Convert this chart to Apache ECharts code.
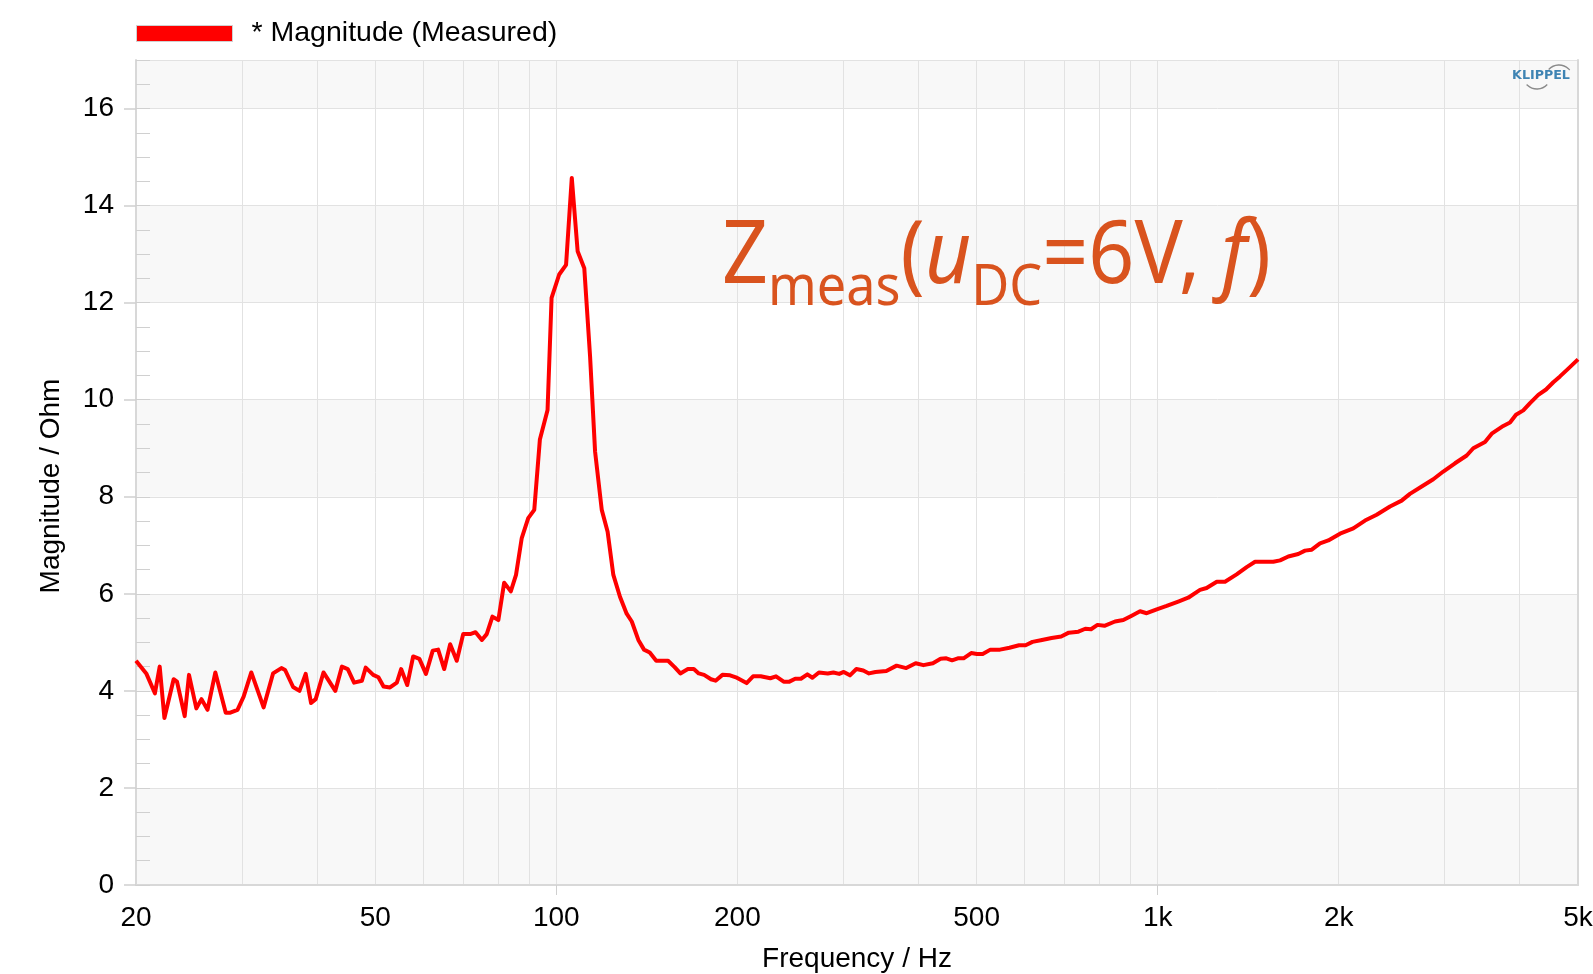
<!DOCTYPE html>
<html>
<head>
<meta charset="utf-8">
<script src="https://cdn.jsdelivr.net/npm/echarts@6.0.0/dist/echarts.min.js"></script>
<style>
  html, body { margin: 0; padding: 0; background: #fff; }
  #chart { width: 1593px; height: 974px; }
</style>
</head>
<body>
<div id="chart"></div>
<script>
// ---- data ----
const freqHz = [20, 20.8, 21.5, 21.9, 22.3, 23.1, 23.4, 24.1, 24.5, 25.2, 25.7, 26.3, 27.1, 27.7, 28.2,
  28.7, 29.5, 30.2, 31.1, 32.6, 33.8, 34.9, 35.4, 36.5, 37.4, 38.3, 39.1, 39.8, 41.0, 42.9,
  44.0, 45.0, 46.1, 47.5, 48.2, 49.6, 50.6, 51.6, 52.9, 54.3, 55.2, 56.5, 57.8, 59.2, 60.7,
  62.3, 63.6, 65.1, 66.6, 68.3, 70.0, 71.9, 73.4, 75.2, 76.6, 78.3, 80.1, 81.9, 84.0, 85.7,
  87.6, 89.8, 91.9, 93.9, 96.7, 98.2, 101.1, 103.8, 106.1, 108.5, 111.3, 113.8, 116.0, 119.0, 121.7,
  124.4, 127.6, 130.9, 133.5, 136.9, 139.9, 143.0, 146.6, 153.4, 157.3, 160.8, 165.5, 169.3, 172.5, 176.1,
  180.8, 184.0, 188.9, 194.5, 198.9, 207.2, 212.4, 218.7, 226.9, 231.9, 238.8, 244.1, 249.6, 255.1, 261.5,
  266.6, 273.3, 282.7, 288.9, 295.4, 300.6, 307.8, 315.5, 323.9, 331.1, 339.4, 353.8, 368.0, 381.8, 395.9,
  407.8, 422.9, 435.5, 445.2, 455.1, 465.2, 475.6, 489.7, 500.6, 511.7, 527.0, 546.8, 567.0, 588.1, 603.0,
  619.2, 642.1, 666.2, 691.1, 711.6, 738.2, 758.0, 774.7, 794.2, 815.5, 849.2, 876.7, 905.4, 934.7, 958.9,
  996.4, 1035, 1082, 1124, 1176, 1206, 1254, 1294, 1353, 1406, 1452, 1557, 1598, 1649, 1713,
  1758, 1804, 1862, 1922, 2010, 2115, 2212, 2313, 2434, 2545, 2627, 2748, 2873, 2985, 3122,
  3265, 3348, 3502, 3593, 3756, 3854, 3943, 4055, 4161, 4295, 4424, 4549, 4667, 4818, 5000];

const magnitudeOhm = [4.62, 4.36, 3.95, 4.50, 3.44, 4.24, 4.19, 3.48, 4.33, 3.64, 3.83, 3.61, 4.38, 3.92, 3.55,
  3.55, 3.61, 3.88, 4.38, 3.66, 4.36, 4.47, 4.43, 4.08, 4.00, 4.35, 3.75, 3.83, 4.38, 4.00,
  4.50, 4.45, 4.17, 4.21, 4.48, 4.33, 4.28, 4.09, 4.07, 4.17, 4.45, 4.12, 4.71, 4.66, 4.35,
  4.83, 4.85, 4.45, 4.96, 4.62, 5.17, 5.17, 5.21, 5.05, 5.17, 5.53, 5.46, 6.23, 6.05, 6.39,
  7.15, 7.56, 7.73, 9.18, 9.79, 12.10, 12.58, 12.78, 14.57, 13.06, 12.71, 10.89, 8.93, 7.73, 7.28,
  6.39, 5.94, 5.59, 5.43, 5.05, 4.85, 4.79, 4.62, 4.62, 4.49, 4.36, 4.45, 4.45, 4.36, 4.33,
  4.24, 4.21, 4.33, 4.32, 4.28, 4.16, 4.30, 4.30, 4.26, 4.30, 4.19, 4.19, 4.25, 4.25, 4.34,
  4.27, 4.38, 4.36, 4.38, 4.35, 4.39, 4.32, 4.45, 4.42, 4.36, 4.39, 4.41, 4.52, 4.47, 4.57,
  4.53, 4.57, 4.66, 4.67, 4.63, 4.67, 4.67, 4.78, 4.76, 4.76, 4.85, 4.85, 4.89, 4.94, 4.94,
  5.01, 5.05, 5.09, 5.12, 5.20, 5.22, 5.28, 5.27, 5.36, 5.34, 5.43, 5.46, 5.55, 5.64, 5.60,
  5.68, 5.75, 5.84, 5.92, 6.08, 6.12, 6.25, 6.25, 6.40, 6.55, 6.66, 6.66, 6.69, 6.77, 6.82,
  6.89, 6.91, 7.04, 7.10, 7.24, 7.35, 7.51, 7.63, 7.80, 7.92, 8.06, 8.21, 8.36, 8.52, 8.69,
  8.85, 9.00, 9.13, 9.30, 9.46, 9.53, 9.69, 9.78, 9.93, 10.10, 10.21, 10.36, 10.48, 10.64, 10.83];

const seriesName = '* Magnitude (Measured)';
const xLabelFreqs = [20, 50, 100, 200, 500, 1000, 2000, 5000];
const xGridFreqs = [20, 30, 40, 50, 60, 70, 80, 90, 100, 200, 300, 400, 500, 600, 700, 800, 900,
  1000, 2000, 3000, 4000, 5000];
const xDecadeTicks = [100, 1000];
const yMajorTicks = [0, 2, 4, 6, 8, 10, 12, 14, 16];

if (freqHz.length !== magnitudeOhm.length) console.warn('length mismatch');

// ---- chart ----
const FONT = '"Liberation Sans", Arial, sans-serif';
const GRID_COLOR = '#e2e2e2';
const BORDER_COLOR = '#d8d8d8';
const ANNO_COLOR = '#d9531e';
const ANNO_FONT = '"Noto Sans", sans-serif';

const chart = echarts.init(document.getElementById('chart'), null, { renderer: 'canvas' });

function fmtFreq(v) {
  const r = Math.round(v);
  return r >= 1000 ? (r / 1000) + 'k' : String(r);
}

const option = {
  animation: false,
  backgroundColor: '#ffffff',
  textStyle: { fontFamily: FONT },
  legend: {
    left: 136, top: 19, padding: 0,
    icon: 'rect', itemWidth: 96, itemHeight: 16,
    textStyle: { fontSize: 28.5, color: '#000', fontFamily: FONT, padding: [0, 0, 0, 14] },
    data: [{ name: seriesName, itemStyle: { color: '#ff0000', borderColor: '#d0d0d0', borderWidth: 1 } }]
  },
  grid: { left: 136, right: 15, top: 60, bottom: 89, containLabel: false, outerBoundsMode: 'none' },
  xAxis: [
    {
      type: 'log', logBase: 10, min: 20, max: 5000, position: 'bottom',
      name: 'Frequency / Hz', nameLocation: 'middle', nameGap: 60,
      nameTextStyle: { fontSize: 28, color: '#000', fontFamily: FONT },
      axisLine: { show: true, lineStyle: { color: BORDER_COLOR, width: 2 } },
      axisTick: { show: false, customValues: xGridFreqs },
      axisLabel: { customValues: xLabelFreqs, formatter: fmtFreq, fontSize: 28, color: '#000',
                   fontFamily: FONT, margin: 19, hideOverlap: false },
      splitLine: { show: true, lineStyle: { color: GRID_COLOR, width: 1 } },
      minorTick: { show: false }, minorSplitLine: { show: false }
    },
    {
      type: 'log', logBase: 10, min: 20, max: 5000, position: 'bottom',
      axisLine: { show: false },
      axisTick: { show: true, customValues: xDecadeTicks, length: 10, lineStyle: { color: '#cfcfcf', width: 1 } },
      axisLabel: { show: false },
      splitLine: { show: false }
    },
    {
      type: 'log', logBase: 10, min: 20, max: 5000, position: 'top',
      axisLine: { show: true, lineStyle: { color: BORDER_COLOR, width: 2 } },
      axisTick: { show: false }, axisLabel: { show: false }, splitLine: { show: false }
    }
  ],
  yAxis: [
    {
      type: 'value', min: 0, max: 17, interval: 2, position: 'left',
      name: 'Magnitude / Ohm', nameLocation: 'middle', nameGap: 71,
      nameTextStyle: { fontSize: 28, color: '#000', fontFamily: FONT, padding: [0, 27, 0, 0] },
      axisLine: { show: true, lineStyle: { color: BORDER_COLOR, width: 2 } },
      axisTick: { show: false },
      axisLabel: { fontSize: 28, color: '#000', fontFamily: FONT, margin: 22, showMaxLabel: false },
      splitLine: { show: true, lineStyle: { color: GRID_COLOR, width: 1 } },
      splitArea: { show: true, areaStyle: { color: ['#f8f8f8', '#ffffff'] } }
    },
    {
      type: 'value', min: 0, max: 17, position: 'left',
      axisLine: { show: false }, axisLabel: { show: false }, splitLine: { show: false },
      axisTick: { show: true, customValues: yMajorTicks, length: 12, lineStyle: { color: '#cfcfcf', width: 1.5 } }
    },
    {
      type: 'value', min: 0, max: 17, interval: 0.5, position: 'left',
      axisLine: { show: false }, axisLabel: { show: false }, splitLine: { show: false },
      axisTick: { show: true, inside: true, length: 14, lineStyle: { color: '#d0d0d0', width: 1 } }
    },
    {
      type: 'value', min: 0, max: 17, position: 'right',
      axisLine: { show: true, lineStyle: { color: BORDER_COLOR, width: 2 } },
      axisTick: { show: false }, axisLabel: { show: false }, splitLine: { show: false }
    }
  ],
  series: [
    {
      type: 'line', name: seriesName, xAxisIndex: 0, yAxisIndex: 0,
      data: freqHz.map((f, i) => [f, magnitudeOhm[i]]),
      showSymbol: false, symbol: 'none', clip: true, z: 5,
      lineStyle: { color: '#ff0000', width: 4, join: 'round' },
      itemStyle: { color: '#ff0000' }
    }
  ],
  graphic: [
    {
      type: 'text', x: 722, y: 203, scaleX: 0.915, z: 20,
      style: {
        text: '{m|Z}{s|meas}{m|(}{i|u}{s|DC}{m|=6V, }{i|f}{m|)}',
        align: 'left', verticalAlign: 'top', fill: ANNO_COLOR,
        rich: {
          m: { fontSize: 88, fontFamily: ANNO_FONT, lineHeight: 110, fill: ANNO_COLOR },
          i: { fontSize: 88, fontFamily: ANNO_FONT, fontStyle: 'italic', lineHeight: 110, fill: ANNO_COLOR },
          s: { fontSize: 57, fontFamily: ANNO_FONT, lineHeight: 40, verticalAlign: 'top',
               padding: [57, 0, 0, 0], fill: ANNO_COLOR }
        }
      }
    },
    {
      type: 'text', x: 1541, y: 76, scaleX: 1.1, z: 20,
      style: { text: 'KLIPPEL', align: 'center', verticalAlign: 'middle', fill: '#3f84b3',
               fontSize: 11.5, fontWeight: 'bold', fontFamily: '"DejaVu Sans", sans-serif' }
    },
    {
      type: 'arc', z: 20,
      shape: { cx: 1559, cy: 79, r: 14, startAngle: -2.4, endAngle: -0.7, clockwise: true },
      style: { stroke: '#8a8a8a', lineWidth: 1.3, fill: null }
    },
    {
      type: 'arc', z: 20,
      shape: { cx: 1537, cy: 75, r: 14, startAngle: 0.75, endAngle: 2.4, clockwise: true },
      style: { stroke: '#8a8a8a', lineWidth: 1.3, fill: null }
    }
  ]
};

chart.setOption(option);
</script>
</body>
</html>
